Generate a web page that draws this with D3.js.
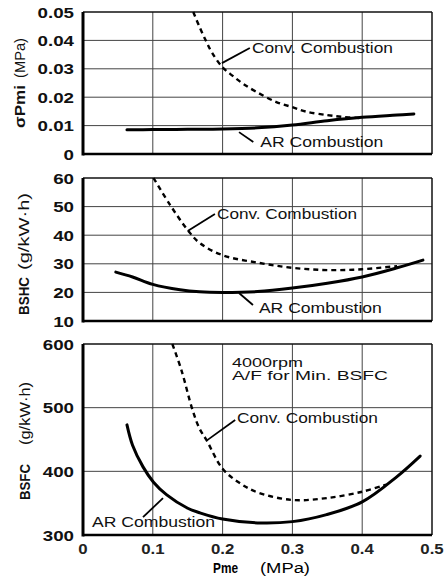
<!DOCTYPE html>
<html><head><meta charset="utf-8">
<script src="https://cdn.jsdelivr.net/npm/d3@7"></script>
<style>
body{margin:0;background:#fff;}
svg{display:block;font-family:"Liberation Sans",Arial,sans-serif;}
</style></head>
<body><svg id="c" width="446" height="581"></svg>
<script>
// ---------- data ----------
const pmeTicks = [0, 0.1, 0.2, 0.3, 0.4, 0.5];
const sigmaTicks = [0, 0.01, 0.02, 0.03, 0.04, 0.05];
const bshcTicks = [10, 20, 30, 40, 50, 60];
const bsfcTicks = [300, 400, 500, 600];

const sigmaAR_x = [0.063, 0.1, 0.15, 0.2, 0.25, 0.3, 0.35, 0.4, 0.45, 0.474];
const sigmaAR_y = [0.0085, 0.0086, 0.0087, 0.0088, 0.0092, 0.0102, 0.0117, 0.0129, 0.0137, 0.0141];
const sigmaConv_x = [0.158, 0.167, 0.177, 0.185, 0.2, 0.214, 0.229, 0.249, 0.277, 0.3, 0.32, 0.35, 0.37, 0.396];
const sigmaConv_y = [0.05, 0.0447, 0.0394, 0.0356, 0.0305, 0.0276, 0.0248, 0.0218, 0.0183, 0.0165, 0.0149, 0.0137, 0.0131, 0.0127];

const bshcAR_x = [0.047, 0.071, 0.1, 0.139, 0.167, 0.2, 0.25, 0.3, 0.35, 0.4, 0.45, 0.487];
const bshcAR_y = [27.1, 25.4, 22.8, 20.9, 20.2, 20.0, 20.3, 21.5, 23.2, 25.4, 28.6, 31.3];
const bshcConv_x = [0.101, 0.125, 0.15, 0.167, 0.2, 0.25, 0.3, 0.35, 0.4, 0.45];
const bshcConv_y = [60, 50.5, 41.8, 37.3, 33.0, 30.4, 28.6, 27.8, 28.1, 29.2];

const bsfcAR_x = [0.063, 0.071, 0.086, 0.101, 0.12, 0.15, 0.167, 0.2, 0.25, 0.3, 0.349, 0.4, 0.449, 0.483];
const bsfcAR_y = [473, 441, 407, 383, 363, 342, 335, 325, 319, 321, 332, 352, 391, 424];
const bsfcConv_x = [0.128, 0.141, 0.157, 0.167, 0.177, 0.2, 0.224, 0.25, 0.3, 0.349, 0.4, 0.434];
const bsfcConv_y = [600, 559, 496, 467, 449, 404, 382, 367, 355, 358, 368, 379];

// ---------- layout ----------
const svg = d3.select("#c");
const x = d3.scaleLinear().domain([0, 0.5]).range([83, 432]);
const panels = [
  {ticks: sigmaTicks, dom: [0, 0.05], range: [154, 12], fmt: d3.format(".2f"), zeroFmt: true,
   ar: [sigmaAR_x, sigmaAR_y], conv: [sigmaConv_x, sigmaConv_y]},
  {ticks: bshcTicks, dom: [10, 60], range: [321, 178], fmt: d3.format("d"),
   ar: [bshcAR_x, bshcAR_y], conv: [bshcConv_x, bshcConv_y]},
  {ticks: bsfcTicks, dom: [300, 600], range: [535, 344], fmt: d3.format("d"),
   ar: [bsfcAR_x, bsfcAR_y], conv: [bsfcConv_x, bsfcConv_y]}
];

panels.forEach(p => {
  const y = d3.scaleLinear().domain(p.dom).range(p.range);
  p.y = y;
  const g = svg.append("g");
  // grid
  g.selectAll(".vg").data(pmeTicks.slice(1, -1)).join("line")
    .attr("x1", d => x(d)).attr("x2", d => x(d)).attr("y1", y(p.dom[0])).attr("y2", y(p.dom[1]))
    .attr("stroke", "#444").attr("stroke-width", 1);
  g.selectAll(".hg").data(p.ticks.slice(1, -1)).join("line")
    .attr("x1", x(0)).attr("x2", x(0.5)).attr("y1", d => y(d)).attr("y2", d => y(d))
    .attr("stroke", "#444").attr("stroke-width", 1);
  // frame
  g.append("line").attr("x1", x(0)).attr("x2", x(0.5)).attr("y1", y(p.dom[1])).attr("y2", y(p.dom[1]))
    .attr("stroke", "#111").attr("stroke-width", 1.5);
  g.append("line").attr("x1", x(0.5)).attr("x2", x(0.5)).attr("y1", y(p.dom[0])).attr("y2", y(p.dom[1]))
    .attr("stroke", "#111").attr("stroke-width", 1.5);
  g.append("line").attr("x1", x(0)).attr("x2", x(0)).attr("y1", y(p.dom[0]) + 1.5).attr("y2", y(p.dom[1]))
    .attr("stroke", "#000").attr("stroke-width", 3);
  g.append("line").attr("x1", x(0)).attr("x2", x(0.5)).attr("y1", y(p.dom[0])).attr("y2", y(p.dom[0]))
    .attr("stroke", "#000").attr("stroke-width", 2.5);
  // y tick labels
  g.selectAll(".yt").data(p.ticks).join("text")
    .attr("transform", d => `translate(74,${y(d) + 5.5}) scale(1.25,1)`)
    .attr("text-anchor", "end").attr("font-weight", "bold").attr("font-size", 15)
    .attr("fill", "#111")
    .text(d => (p.zeroFmt && d === 0) ? "0" : p.fmt(d));
  // curves
  const line = d3.line().x(d => x(d[0])).y(d => y(d[1])).curve(d3.curveCatmullRom.alpha(0.5));
  const arPts = p.ar[0].map((v, i) => [v, p.ar[1][i]]);
  const cvPts = p.conv[0].map((v, i) => [v, p.conv[1][i]]);
  g.append("path").attr("d", line(cvPts)).attr("fill", "none").attr("stroke", "#000")
    .attr("stroke-width", 2.4).attr("stroke-dasharray", "5,4");
  g.append("path").attr("d", line(arPts)).attr("fill", "none").attr("stroke", "#000")
    .attr("stroke-width", 3).attr("stroke-linecap", "round");
});

// x tick labels
svg.selectAll(".xt").data(pmeTicks).join("text")
  .attr("transform", d => `translate(${x(d)},554) scale(1.2,1)`)
  .attr("text-anchor", "middle").attr("font-size", 14).attr("font-weight", "bold").attr("fill", "#222")
  .text(d => d === 0 ? "0" : d3.format(".1f")(d));
svg.append("text").attr("x", 213).attr("y", 573).attr("font-size", 14).attr("font-weight", "bold")
  .attr("textLength", 25).attr("lengthAdjust", "spacingAndGlyphs").text("Pme");
svg.append("text").attr("x", 260).attr("y", 573).attr("font-size", 14)
  .attr("textLength", 50).attr("lengthAdjust", "spacingAndGlyphs").text("(MPa)");

// y axis titles (rotated)
function vtext(xb, yStart, len, txt, bold) {
  svg.append("text").attr("transform", `translate(${xb},${yStart}) rotate(-90)`)
    .attr("font-size", 14).attr("font-weight", bold ? "bold" : "normal").attr("fill", "#111")
    .attr("textLength", len).attr("lengthAdjust", "spacingAndGlyphs").text(txt);
}
vtext(25, 128, 43, "σPmi", true);
vtext(25, 78, 40, "(MPa)", false);
vtext(29, 315, 38, "BSHC", true);
vtext(29, 270, 77, "(g/kW·h)", false);
vtext(30, 500, 36, "BSFC", true);
vtext(30, 445, 63, "(g/kW·h)", false);

// annotations
function label(p, dx, dy, txt, len, fs) {
  svg.append("text").attr("x", x(dx)).attr("y", p.y(dy)).attr("font-size", fs || 14).attr("fill", "#111")
    .attr("textLength", len).attr("lengthAdjust", "spacingAndGlyphs").text(txt);
}
function leader(p, a, b) {
  svg.append("line").attr("x1", x(a[0])).attr("y1", p.y(a[1])).attr("x2", x(b[0])).attr("y2", p.y(b[1]))
    .attr("stroke", "#000").attr("stroke-width", 1.8);
}
const [P1, P2, P3] = panels;
label(P1, 0.242, 0.0356, "Conv. Combustion", 141);
leader(P1, [0.239, 0.0373], [0.199, 0.032]);
label(P1, 0.254, 0.0025, "AR Combustion", 123);
leader(P1, [0.244, 0.0042], [0.2235, 0.0077]);
label(P2, 0.192, 45.7, "Conv. Combustion", 140);
leader(P2, [0.189, 47.4], [0.150, 41.5]);
label(P2, 0.252, 12.8, "AR Combustion", 123);
leader(P2, [0.2435, 15.6], [0.2235, 19.8]);
label(P3, 0.2135, 564, "4000rpm", 71, 12);
label(P3, 0.2135, 543.5, "A/F for Min. BSFC", 156, 12);
label(P3, 0.2206, 476, "Conv. Combustion", 141);
leader(P3, [0.218, 480.6], [0.178, 449]);
label(P3, 0.013, 312.6, "AR Combustion", 123);
leader(P3, [0.086, 328], [0.1146, 358]);
</script></body></html>
